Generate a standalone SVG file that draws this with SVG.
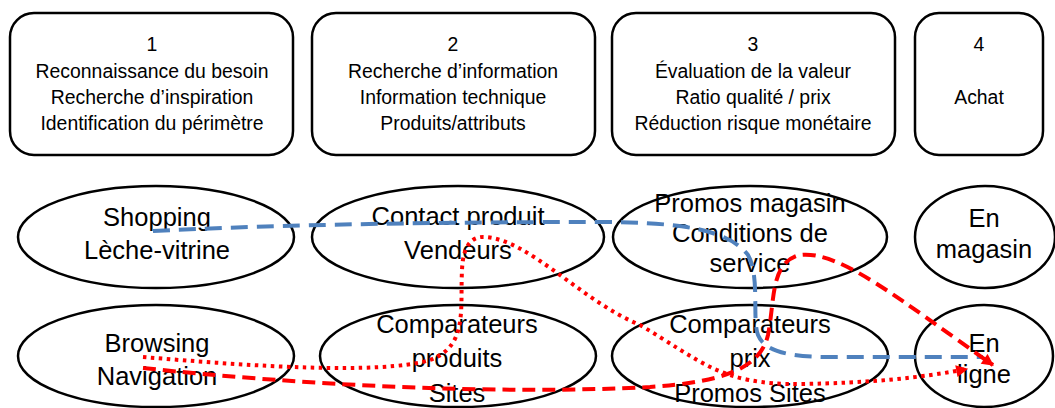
<svg xmlns="http://www.w3.org/2000/svg" width="1055" height="408" viewBox="0 0 1055 408">
<style>
.box{fill:#fff;stroke:#000;stroke-width:2.5}
.ell{fill:#fff;stroke:#000;stroke-width:2.5}
.bt{font-family:"Liberation Sans",Arial,sans-serif;font-size:19.4px;fill:#000;text-anchor:middle}
.et{font-family:"Liberation Sans",Arial,sans-serif;font-size:25.5px;fill:#000;text-anchor:middle}
.blue{fill:none;stroke:#4F81BD;stroke-width:4;stroke-dasharray:17,9}
.rdot{fill:none;stroke:#FF0000;stroke-width:4;stroke-dasharray:3.5,4.5}
.rdash{fill:none;stroke:#FF0000;stroke-width:4;stroke-dasharray:13,7}
</style>
<defs>
<marker id="ah" viewBox="0 0 10 10" refX="9" refY="5" markerWidth="14" markerHeight="12" markerUnits="userSpaceOnUse" orient="auto">
<path d="M0,0 L10,5 L0,10 z" fill="#FF0000"/>
</marker>
</defs>
<g id="stage1"><rect class="box" x="10" y="13" width="283" height="142" rx="24"/>
<text class="bt" x="152" y="51">1</text><text class="bt" x="152" y="78">Reconnaissance du besoin</text><text class="bt" x="152" y="104">Recherche d’inspiration</text><text class="bt" x="152" y="130">Identification du périmètre</text></g>
<g id="stage2"><rect class="box" x="312" y="13" width="283" height="142" rx="24"/>
<text class="bt" x="453" y="51">2</text><text class="bt" x="453" y="78">Recherche d’information</text><text class="bt" x="453" y="104">Information technique</text><text class="bt" x="453" y="130">Produits/attributs</text></g>
<g id="stage3"><rect class="box" x="612" y="13" width="283" height="142" rx="24"/>
<text class="bt" x="753" y="51">3</text><text class="bt" x="753" y="78">Évaluation de la valeur</text><text class="bt" x="753" y="104">Ratio qualité / prix</text><text class="bt" x="753" y="130">Réduction risque monétaire</text></g>
<g id="stage4"><rect class="box" x="915" y="13" width="128" height="142" rx="24"/>
<text class="bt" x="979" y="51">4</text><text class="bt" x="979" y="104">Achat</text></g>

<g id="shopping"><ellipse class="ell" cx="156" cy="237" rx="138" ry="51"/>
<text class="et" x="157" y="226">Shopping</text><text class="et" x="157" y="259">Lèche-vitrine</text></g>
<g id="contact"><ellipse class="ell" cx="458" cy="237" rx="146" ry="51"/>
<text class="et" x="458" y="225">Contact produit</text><text class="et" x="458" y="259">Vendeurs</text></g>
<g id="promos"><ellipse class="ell" cx="750" cy="237" rx="137" ry="51"/>
<text class="et" x="750" y="212">Promos magasin</text><text class="et" x="750" y="242">Conditions de</text><text class="et" x="750" y="272">service</text></g>
<g id="magasin"><ellipse class="ell" cx="985" cy="237" rx="70" ry="51"/>
<text class="et" x="984" y="227">En</text><text class="et" x="984" y="258">magasin</text></g>

<g id="browsing"><ellipse class="ell" cx="156" cy="356" rx="138" ry="51"/>
<text class="et" x="157" y="352">Browsing</text><text class="et" x="157" y="385">Navigation</text></g>
<g id="compprod"><ellipse class="ell" cx="458" cy="356" rx="138" ry="51"/>
<text class="et" x="457" y="333">Comparateurs</text><text class="et" x="457" y="367">produits</text><text class="et" x="457" y="402">Sites</text></g>
<g id="compprix"><ellipse class="ell" cx="750" cy="356" rx="138" ry="51"/>
<text class="et" x="750" y="333">Comparateurs</text><text class="et" x="750" y="367">prix</text><text class="et" x="750" y="402">Promos Sites</text></g>
<g id="enligne"><ellipse class="ell" cx="984" cy="356" rx="69" ry="51"/>
<text class="et" x="984" y="352">En</text><text class="et" x="984" y="383">ligne</text></g>

<g id="connectors">
<path class="blue" d="M153,231 C250,226 400,222 600,222 C690,222 730,232 748,255 C760,275 752,320 758,335 C765,352 790,357 830,357 L983,357"/>
<path class="rdot" d="M143,357 C250,366 380,375 430,360 C468,346 460,310 462,270 C463,245 472,236 485,237 C530,240 580,300 640,325 C700,360 720,385 800,384 C870,383 920,378 967,369" marker-end="url(#ah)"/>
<path class="rdash" d="M143,368 C300,385 500,395 650,387 C720,382 760,370 768,335 C775,300 770,262 800,255 C840,250 900,300 993,365" marker-end="url(#ah)"/>
</g>
</svg>
